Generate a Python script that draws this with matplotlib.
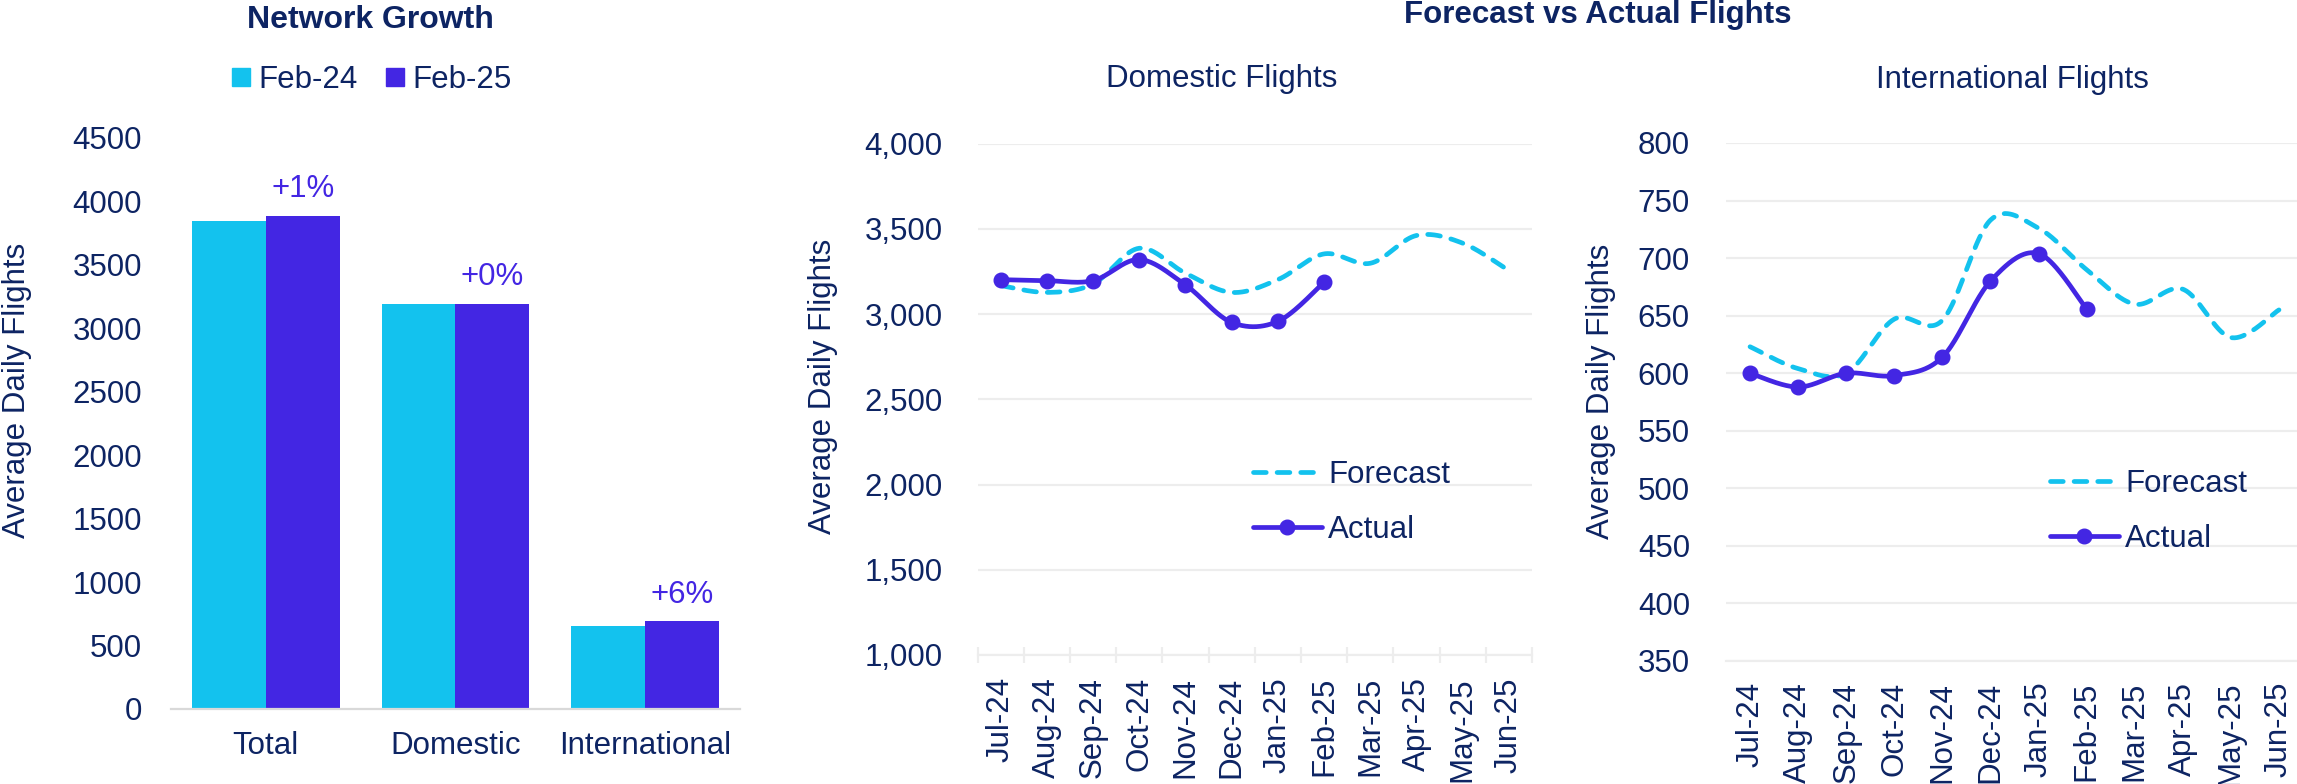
import numpy as np
import matplotlib
matplotlib.use("Agg")
import matplotlib.pyplot as plt
from matplotlib.lines import Line2D

# ---- data ----
groups = ["Total", "Domestic", "International"]
feb24 = [3842, 3188, 650]
feb25 = [3881, 3188, 690]

months = ["Jul-24", "Aug-24", "Sep-24", "Oct-24", "Nov-24", "Dec-24",
          "Jan-25", "Feb-25", "Mar-25", "Apr-25", "May-25", "Jun-25"]
dom_forecast = [3167, 3127, 3176, 3386, 3240, 3127, 3202, 3353, 3298, 3461, 3416, 3255]
dom_actual = [3202, 3196, 3196, 3320, 3171, 2951, 2957, 3186]
intl_forecast = [623, 604, 600, 647, 646, 733, 726, 690, 660, 673, 631, 655]
intl_actual = [600, 588, 600, 598, 614, 680, 704, 656]

# ---- style ----
CYAN = "#13C2EE"
PURPLE = "#4326E3"
NAVY = "#0D2463"
GRID = "#EDEDED"
FS = 22.5
LW = 3.4
MS = 10.5
DASH = (0, (2.7, 2.3))
plt.rcParams["font.family"] = ["Liberation Sans", "DejaVu Sans"]
plt.rcParams["text.color"] = NAVY

W, H = 2297, 784
fig = plt.figure(figsize=(W / 100, H / 100), dpi=100)


def px_axes(left, right, bottom, top):
    return fig.add_axes([left / W, 1 - bottom / H, (right - left) / W, (bottom - top) / H])


def smooth(xs, ys, n=40):
    """Catmull-Rom style Bezier smoothing through every point."""
    pts = np.column_stack([xs, ys]).astype(float)
    out = [pts[0]]
    for i in range(len(pts) - 1):
        p0 = pts[i - 1] if i > 0 else pts[i]
        p1, p2 = pts[i], pts[i + 1]
        p3 = pts[i + 2] if i + 2 < len(pts) else pts[i + 1]
        c1 = p1 + (p2 - p0) / 6
        c2 = p2 - (p3 - p1) / 6
        t = np.linspace(0, 1, n)[1:, None]
        seg = ((1 - t) ** 3) * p1 + 3 * ((1 - t) ** 2) * t * c1 + 3 * (1 - t) * t ** 2 * c2 + t ** 3 * p2
        out.extend(seg)
    out = np.array(out)
    return out[:, 0], out[:, 1]


# ---- Network Growth bar chart ----
ax = px_axes(171, 740, 709, 137.7)
x = np.arange(len(groups))
bw = 0.39
ax.bar(x - bw / 2, feb24, bw, color=CYAN, label="Feb-24")
ax.bar(x + bw / 2, feb25, bw, color=PURPLE, label="Feb-25")
for xi, a, b in zip(x, feb24, feb25):
    pct = round((b / a - 1) * 100)
    ax.annotate(f"+{pct}%", (xi + bw / 2, b), xytext=(0, 8.5), textcoords="offset points",
                ha="center", va="bottom", color=PURPLE, fontsize=FS)
ax.set_xlim(-0.5, 2.5)
ax.set_ylim(0, 4500)
ax.set_yticks(np.arange(0, 4501, 500))
ax.set_xticks(x)
ax.set_xticklabels(groups)
for s in ["top", "right", "left"]:
    ax.spines[s].set_visible(False)
ax.spines["bottom"].set_color("#D9D9D9")
ax.spines["bottom"].set_linewidth(1.6)
ax.tick_params(axis="y", length=0, pad=21, labelsize=FS, labelcolor=NAVY)
ax.tick_params(axis="x", length=0, pad=16, labelsize=FS, labelcolor=NAVY)
ax.set_ylabel("Average Daily Flights", fontsize=FS, color=NAVY)
ax.yaxis.label.set_va("center")
ax.yaxis.set_label_coords(-0.2707, 0.558)
sq = [Line2D([], [], ls="none", marker="s", markersize=12.5, color=c) for c in (CYAN, PURPLE)]
ax.legend(sq, ["Feb-24", "Feb-25"], loc="center", bbox_to_anchor=(372 / W, 1 - 80 / H),
          bbox_transform=fig.transFigure, ncol=2, frameon=False, fontsize=FS,
          handlelength=0.6, handletextpad=0.25, columnspacing=0.9, borderpad=0, borderaxespad=0)
fig.text(370 / W, 1 - 20 / H, "Network Growth", ha="center", va="center",
         fontsize=23, fontweight="bold", color=NAVY)


# ---- forecast vs actual line charts ----
def line_panel(ax, forecast, actual, ylo, yhi, step, fmt, legend_xy, ypad, label_xy, with_ticks):
    xf = np.arange(len(forecast))
    xa = np.arange(len(actual))
    sx, sy = smooth(xf, forecast)
    ax.plot(sx, sy, color=CYAN, lw=LW, ls=DASH, dash_capstyle="round",
            solid_capstyle="round", zorder=3)
    ax.plot(*smooth(xa, actual), color=PURPLE, lw=LW, solid_capstyle="round", zorder=4)
    ax.plot(xa, actual, ls="none", marker="o", markersize=MS, color=PURPLE, zorder=5)
    ax.set_xlim(-0.5, len(forecast) - 0.5)
    ax.set_ylim(ylo, yhi)
    ax.set_yticks(np.arange(ylo, yhi + 1, step))
    ax.set_yticklabels([fmt.format(v) for v in np.arange(ylo, yhi + 1, step)])
    ax.set_xticks(xf)
    ax.set_xticklabels(months, rotation=90)
    ax.grid(axis="y", color=GRID, lw=1.6, zorder=0)
    for s in ["top", "right", "left"]:
        ax.spines[s].set_visible(False)
    ax.spines["bottom"].set_color(GRID)
    ax.spines["bottom"].set_linewidth(1.6)
    ax.tick_params(axis="y", length=0, pad=ypad, labelsize=FS, labelcolor=NAVY)
    if with_ticks:
        ax.set_xticks(np.arange(-0.5, len(forecast)), minor=True)
        ax.tick_params(axis="x", which="minor", direction="inout", length=11.5, width=1.6, color=GRID)
        ax.tick_params(axis="x", which="major", length=0, pad=16, labelsize=FS, labelcolor=NAVY)
    else:
        ax.tick_params(axis="x", length=0, pad=15, labelsize=FS, labelcolor=NAVY)
    ax.set_ylabel("Average Daily Flights", fontsize=FS, color=NAVY)
    ax.yaxis.label.set_va("center")
    ax.yaxis.set_label_coords(*label_xy)
    handles = [Line2D([], [], color=CYAN, lw=LW, ls=DASH, dash_capstyle="round"),
               Line2D([], [], color=PURPLE, lw=LW, marker="o", markersize=MS, solid_capstyle="round")]
    ax.legend(handles, ["Forecast", "Actual"], loc="center left",
              bbox_to_anchor=(legend_xy[0] / W, 1 - legend_xy[1] / H), bbox_transform=fig.transFigure,
              frameon=False, fontsize=FS, handlelength=2.2, handletextpad=0.2,
              labelspacing=0.8, borderpad=0, borderaxespad=0)


ax_d = px_axes(977.5, 1532, 655, 143.6)
line_panel(ax_d, dom_forecast, dom_actual, 1000, 4000, 500, "{:,}",
           (1253, 502.5), 25, (-0.2786, 0.526), True)
fig.text(1222 / W, 1 - 79 / H, "Domestic Flights", ha="center", va="center",
         fontsize=FS, color=NAVY)

ax_i = px_axes(1726, 2303, 661, 143)
line_panel(ax_i, intl_forecast, intl_actual, 350, 800, 50, "{:d}",
           (2050, 511.5), 26, (-0.2166, 0.521), False)
fig.text(2012 / W, 1 - 80 / H, "International Flights", ha="center", va="center",
         fontsize=FS, color=NAVY)

fig.text(1598 / W, 1 - 15 / H, "Forecast vs Actual Flights", ha="center", va="center",
         fontsize=22.5, fontweight="bold", color=NAVY)

fig.savefig("out.png", dpi=100, facecolor="white")
